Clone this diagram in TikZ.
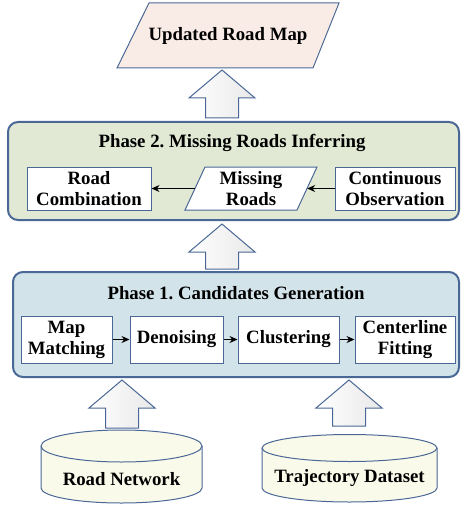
\documentclass[tikz,border=0pt]{standalone}
\usepackage{fontspec}
\setmainfont{Liberation Serif}
\usetikzlibrary{arrows.meta}

\definecolor{edgeblue}{HTML}{4A6896}
\definecolor{phasetwo}{HTML}{E1E9D4}
\definecolor{phaseone}{HTML}{D3E3EA}
\definecolor{mapfill}{HTML}{F9ECE6}
\definecolor{dbfill}{HTML}{FAFAEB}

\tikzset{
  every node/.style={font=\fontsize{18.8}{21}\selectfont\bfseries},
  phasebox/.style={draw=edgeblue,line width=2pt,rounded corners=10pt,inner sep=0pt},
  stepbox/.style={draw=edgeblue,fill=white,line width=1pt,align=center,inner sep=0pt},
  slantline/.style={draw=edgeblue,line width=1pt,line join=miter},
  dbline/.style={draw=edgeblue,fill=dbfill,line width=1pt},
  flowarrow/.style={-{Stealth[length=8pt,width=7pt]},line width=0.9pt},
  pics/upblock/.style={code={
    \path[draw=edgeblue,line width=1pt,left color=white,right color=black!9]
      (0,0) -- (33,-28) -- (16.5,-28) -- (16.5,-#1) -- (-16.5,-#1) -- (-16.5,-28) -- (-33,-28) -- cycle;
  }}
}

\begin{document}
\begin{tikzpicture}[x=1pt,y=1pt,yscale=-1]
  \useasboundingbox (0,0) rectangle (460,505);

  % output
  \path[slantline,fill=mapfill] (149,3) -- (339,3) -- (313,68) -- (117,68) -- cycle;
  \node[align=center] (updated) at (228,35.5) {Updated Road Map};

  % phase 2
  \node[phasebox,fill=phasetwo,minimum width=451,minimum height=98] (phase2) at (233.5,171) {};
  \node (title2) at (232,143) {Phase 2.\ Missing Roads Inferring};
  \node[stepbox,minimum width=124,minimum height=43] (combine) at (89,188.5) {Road\\Combination};
  \path[slantline,fill=white] (205,167) -- (317,167) -- (297,210) -- (185,210) -- cycle;
  \node[align=center,inner sep=0pt,minimum width=112,minimum height=43] (missing) at (251,188.5) {Missing\\Roads};
  \node[stepbox,minimum width=120,minimum height=43] (observe) at (395,188.5) {Continuous\\Observation};
  \draw[flowarrow] (observe) -- (missing);
  \draw[flowarrow] (missing) -- (combine);

  % phase 1
  \node[phasebox,fill=phaseone,minimum width=446,minimum height=105] (phase1) at (236,324.5) {};
  \node (title1) at (236,293) {Phase 1.\ Candidates Generation};
  \node[stepbox,minimum width=91,minimum height=47] (matching) at (66.5,339.5) {Map\\Matching};
  \node[stepbox,minimum width=93,minimum height=47] (denoise) at (176.5,339.5) {Denoising};
  \node[stepbox,minimum width=101,minimum height=47] (cluster) at (288.5,339.5) {Clustering};
  \node[stepbox,minimum width=100,minimum height=47] (fitting) at (405,339.5) {Centerline\\Fitting};
  \draw[flowarrow] (matching) -- (denoise);
  \draw[flowarrow] (denoise) -- (cluster);
  \draw[flowarrow] (cluster) -- (fitting);

  % inputs
  \path[dbline] (41,446) -- (41,488) arc[start angle=180,end angle=0,x radius=80.5,y radius=15]
    -- (202,446) arc[start angle=0,end angle=-180,x radius=80.5,y radius=16] -- cycle;
  \draw[dbline,fill=none] (41,446) arc[start angle=180,end angle=0,x radius=80.5,y radius=16];
  \node (roadnet) at (121.5,479) {Road Network};
  \path[dbline] (262,448) -- (262,488) arc[start angle=180,end angle=0,x radius=87.5,y radius=14]
    -- (437,448) arc[start angle=0,end angle=-180,x radius=87.5,y radius=13.5] -- cycle;
  \draw[dbline,fill=none] (262,448) arc[start angle=180,end angle=0,x radius=87.5,y radius=13.5];
  \node (trajdata) at (349.5,478) {Trajectory Dataset};

  % block arrows
  \pic at (222,70) {upblock=48};
  \pic at (222,224) {upblock=45};
  \pic at (122,380) {upblock=48};
  \pic at (349,380) {upblock=46};
\end{tikzpicture}
\end{document}
